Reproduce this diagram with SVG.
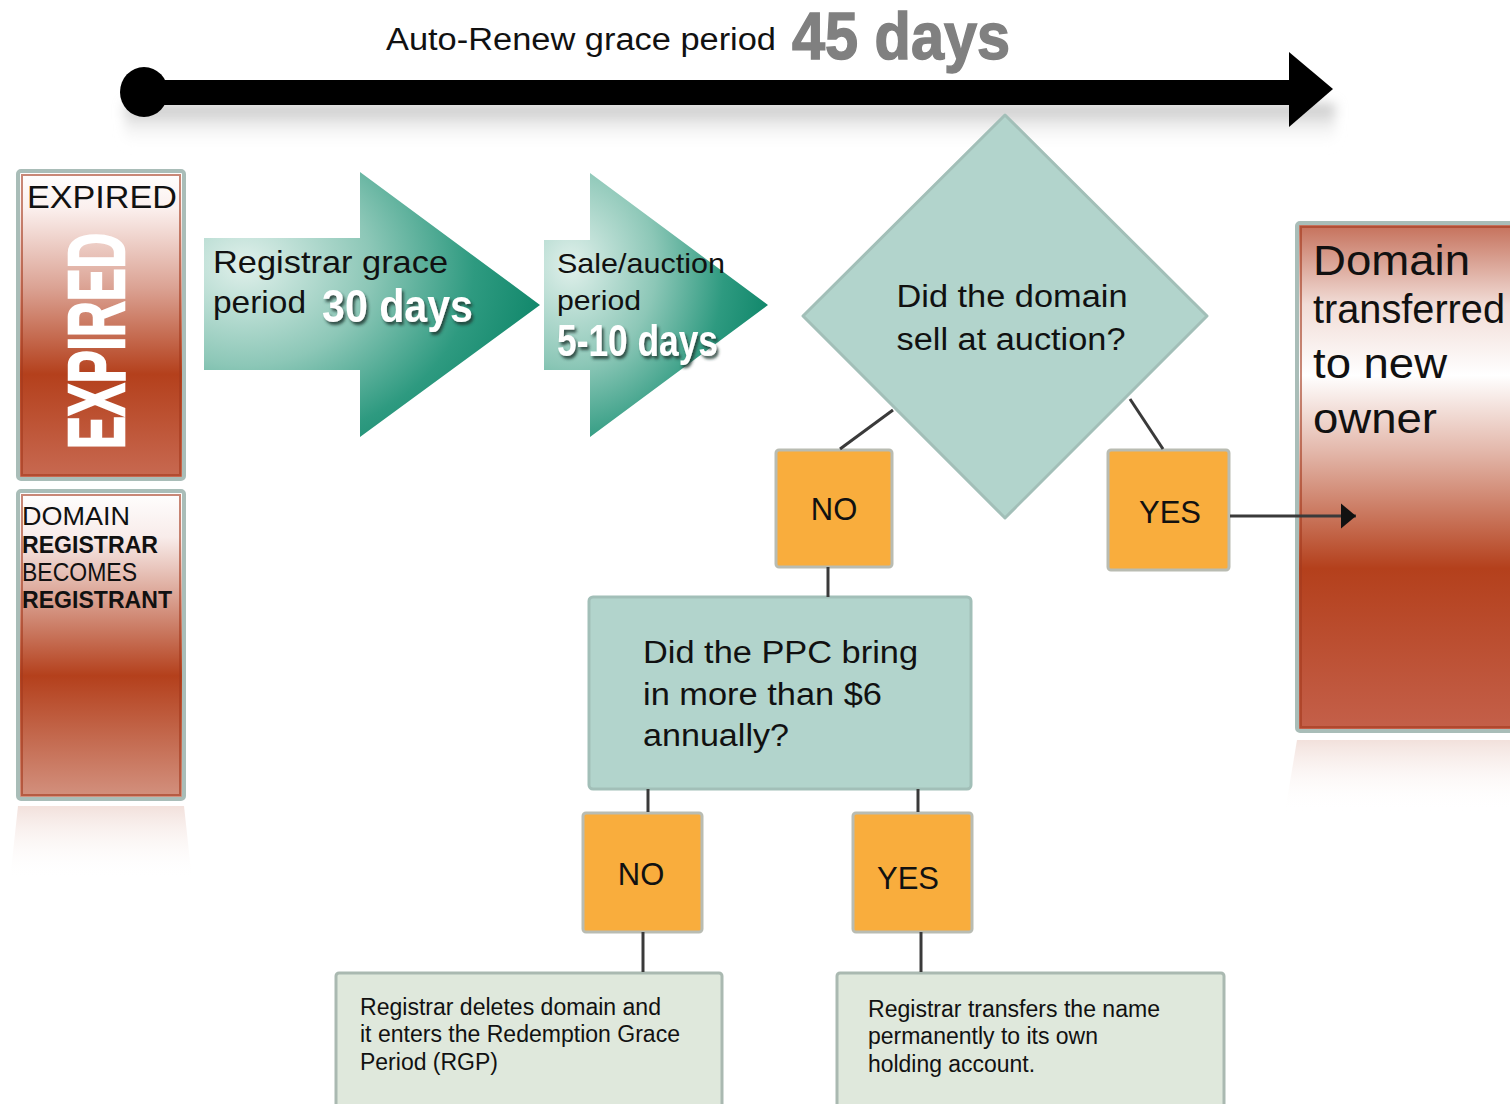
<svg xmlns="http://www.w3.org/2000/svg" width="1510" height="1104" viewBox="0 0 1510 1104">
  <defs>
    <style>
      .t { font-family: "Liberation Sans", Arial, sans-serif; fill: #111; }
      .nar { font-family: "Liberation Sans Narrow", "Liberation Sans", Arial, sans-serif; }
      .big { font-family: "Liberation Sans Narrow", "Liberation Sans", Arial, sans-serif; font-weight: bold; }
      .orange { fill: #f9ad3d; stroke: #b9bcb2; stroke-width: 3; }
      .teal { fill: #b2d4cc; stroke: #a2bfb8; stroke-width: 3; }
      .note { fill: #dfe8dc; stroke: #aab9b1; stroke-width: 3; }
      .conn { stroke: #3a3a3a; stroke-width: 3; fill: none; }
    </style>
    <linearGradient id="redA" x1="0" y1="0" x2="0" y2="1">
      <stop offset="0" stop-color="#ffffff"/>
      <stop offset="0.12" stop-color="#fbf0ee"/>
      <stop offset="0.38" stop-color="#dba293"/>
      <stop offset="0.66" stop-color="#b4401c"/>
      <stop offset="1" stop-color="#c86a52"/>
    </linearGradient>
    <linearGradient id="redB" x1="0" y1="0" x2="0" y2="1">
      <stop offset="0" stop-color="#ffffff"/>
      <stop offset="0.15" stop-color="#f8ecea"/>
      <stop offset="0.35" stop-color="#d9a090"/>
      <stop offset="0.6" stop-color="#b4401c"/>
      <stop offset="1" stop-color="#d39280"/>
    </linearGradient>
    <linearGradient id="redC" x1="0" y1="0" x2="0" y2="1">
      <stop offset="0" stop-color="#c46e58"/>
      <stop offset="0.16" stop-color="#f1dcd6"/>
      <stop offset="0.3" stop-color="#ffffff"/>
      <stop offset="0.45" stop-color="#e3b7aa"/>
      <stop offset="0.68" stop-color="#b4401c"/>
      <stop offset="1" stop-color="#c4604a"/>
    </linearGradient>
    <linearGradient id="refl" x1="0" y1="0" x2="0" y2="1">
      <stop offset="0" stop-color="#e8c9c0" stop-opacity="0.8"/>
      <stop offset="1" stop-color="#ffffff" stop-opacity="0"/>
    </linearGradient>
    <radialGradient id="green1" cx="0.12" cy="0.35" r="0.95" fx="0.12" fy="0.35">
      <stop offset="0" stop-color="#e0f0eb"/>
      <stop offset="0.4" stop-color="#8cc7b7"/>
      <stop offset="0.72" stop-color="#2e9a80"/>
      <stop offset="1" stop-color="#0a8366"/>
    </radialGradient>
    <linearGradient id="barShadow" x1="0" y1="0" x2="0" y2="1">
      <stop offset="0" stop-color="#bdbdbd"/>
      <stop offset="1" stop-color="#ffffff" stop-opacity="0"/>
    </linearGradient>
    <filter id="blur" x="-10%" y="-50%" width="120%" height="200%">
      <feGaussianBlur stdDeviation="6"/>
    </filter>
    <filter id="ds" x="-20%" y="-20%" width="140%" height="150%">
      <feDropShadow dx="2" dy="3" stdDeviation="1.5" flood-color="#1b3a32" flood-opacity="0.85"/>
    </filter>
    <marker id="arr" viewBox="0 0 6 10" refX="6" refY="5" markerWidth="5" markerHeight="9" markerUnits="strokeWidth" orient="auto">
      <path d="M0,0 L6,5 L0,10 Z" fill="#111"/>
    </marker>
  </defs>

  <rect width="1510" height="1104" fill="#ffffff"/>

  <!-- Timeline -->
  <g id="timeline">
    <rect x="125" y="104" width="1210" height="44" fill="url(#barShadow)" filter="url(#blur)"/>
    <text class="t" x="386" y="50" font-size="31" textLength="390" lengthAdjust="spacingAndGlyphs">Auto-Renew grace period</text>
    <text class="big" x="792" y="59" font-size="66" fill="#808080" stroke="#808080" stroke-width="1.5" textLength="218" lengthAdjust="spacingAndGlyphs">45 days</text>
    <rect x="145" y="80" width="1150" height="25" fill="#000"/>
    <ellipse cx="144" cy="92" rx="24" ry="25" fill="#000"/>
    <path d="M1289,52 L1333,89 L1289,127 Z" fill="#000"/>
  </g>

  <!-- Left status boxes -->
  <g id="expired">
    <rect x="18" y="171" width="166" height="308" rx="3" fill="url(#redA)" stroke="#a9bdb8" stroke-width="4"/>
    <rect x="22" y="175" width="158" height="300" fill="none" stroke="#a3391c" stroke-width="2" stroke-opacity="0.6"/>
    <text class="t" x="27" y="208" font-size="32" textLength="150" lengthAdjust="spacingAndGlyphs">EXPIRED</text>
    <text class="big" transform="translate(124,341) rotate(-90)" x="0" y="0" font-size="80" fill="#ffffff" stroke="#ffffff" stroke-width="2.5" text-anchor="middle" textLength="216" lengthAdjust="spacingAndGlyphs">EXPIRED</text>
  </g>

  <g id="registrant">
    <rect x="18" y="491" width="166" height="308" rx="3" fill="url(#redB)" stroke="#a9bdb8" stroke-width="4"/>
    <rect x="22" y="495" width="158" height="300" fill="none" stroke="#a3391c" stroke-width="2" stroke-opacity="0.6"/>
    <text class="t" x="22" y="525" font-size="25" textLength="108" lengthAdjust="spacingAndGlyphs">DOMAIN</text>
    <text class="t" x="22" y="553" font-size="23" font-weight="bold" textLength="136" lengthAdjust="spacingAndGlyphs">REGISTRAR</text>
    <text class="t" x="22" y="581" font-size="25" textLength="115" lengthAdjust="spacingAndGlyphs">BECOMES</text>
    <text class="t" x="22" y="608" font-size="23" font-weight="bold" textLength="150" lengthAdjust="spacingAndGlyphs">REGISTRANT</text>
    <path d="M18,806 L184,806 L192,880 L10,880 Z" fill="url(#refl)" opacity="0.7"/>
  </g>

  <!-- Green period arrows -->
  <g id="registrar-grace">
    <path d="M204,238 L360,238 L360,172 L540,305 L360,437 L360,370 L204,370 Z" fill="url(#green1)"/>
    <text class="t" x="213" y="273" font-size="32" textLength="235" lengthAdjust="spacingAndGlyphs">Registrar grace</text>
    <text class="t" x="213" y="313" font-size="32" textLength="93" lengthAdjust="spacingAndGlyphs">period</text>
    <text class="big" x="322" y="322" font-size="46" fill="#ffffff" filter="url(#ds)" textLength="151" lengthAdjust="spacingAndGlyphs">30 days</text>
  </g>

  <g id="sale-auction">
    <path d="M544,240 L590,240 L590,173 L768,305 L590,437 L590,370 L544,370 Z" fill="url(#green1)"/>
    <text class="t" x="557" y="273" font-size="28" textLength="168" lengthAdjust="spacingAndGlyphs">Sale/auction</text>
    <text class="t" x="557" y="310" font-size="28" textLength="84" lengthAdjust="spacingAndGlyphs">period</text>
    <text class="big" x="557" y="356" font-size="44" fill="#ffffff" filter="url(#ds)" textLength="161" lengthAdjust="spacingAndGlyphs">5-10 days</text>
  </g>

  <!-- Decision 1 -->
  <g id="auction-decision">
    <path d="M1005,115 L1207,316 L1005,518 L803,316 Z" class="teal" stroke-linejoin="round"/>
    <text class="t" x="1012" y="307" font-size="31" text-anchor="middle" textLength="231" lengthAdjust="spacingAndGlyphs">Did the domain</text>
    <text class="t" x="1011" y="350" font-size="31" text-anchor="middle" textLength="229" lengthAdjust="spacingAndGlyphs">sell at auction?</text>
  </g>

  <g id="no1">
    <rect x="776" y="450" width="116" height="117" rx="3" class="orange"/>
    <text class="t" x="834" y="520" font-size="31" text-anchor="middle">NO</text>
  </g>

  <g id="yes1">
    <rect x="1108" y="450" width="121" height="120" rx="3" class="orange"/>
    <text class="t" x="1170" y="523" font-size="31" text-anchor="middle">YES</text>
  </g>

  <!-- Right outcome -->
  <g id="transferred">
    <rect x="1297" y="223" width="220" height="508" rx="3" fill="url(#redC)" stroke="#a9bdb8" stroke-width="4"/>
    <rect x="1301" y="227" width="215" height="500" fill="none" stroke="#a3391c" stroke-width="2" stroke-opacity="0.6"/>
    <text class="t" x="1313" y="275" font-size="43" textLength="157" lengthAdjust="spacingAndGlyphs">Domain</text>
    <text class="t" x="1313" y="323" font-size="40" textLength="192" lengthAdjust="spacingAndGlyphs">transferred</text>
    <text class="t" x="1313" y="378" font-size="43" textLength="134" lengthAdjust="spacingAndGlyphs">to new</text>
    <text class="t" x="1313" y="433" font-size="43" textLength="124" lengthAdjust="spacingAndGlyphs">owner</text>
    <path d="M1297,740 L1510,740 L1510,812 L1285,812 Z" fill="url(#refl)" opacity="0.7"/>
  </g>

  <!-- Decision 2 -->
  <g id="ppc-decision">
    <rect x="589" y="597" width="382" height="192" rx="4" class="teal"/>
    <text class="t" x="643" y="663" font-size="31" textLength="275" lengthAdjust="spacingAndGlyphs">Did the PPC bring</text>
    <text class="t" x="643" y="705" font-size="31" textLength="239" lengthAdjust="spacingAndGlyphs">in more than $6</text>
    <text class="t" x="643" y="746" font-size="31" textLength="146" lengthAdjust="spacingAndGlyphs">annually?</text>
  </g>

  <g id="no2">
    <rect x="583" y="813" width="119" height="119" rx="3" class="orange"/>
    <text class="t" x="641" y="885" font-size="31" text-anchor="middle">NO</text>
  </g>

  <g id="yes2">
    <rect x="853" y="813" width="119" height="119" rx="3" class="orange"/>
    <text class="t" x="908" y="889" font-size="31" text-anchor="middle">YES</text>
  </g>

  <!-- Outcomes -->
  <g id="rgp">
    <rect x="336" y="973" width="386" height="150" rx="3" class="note"/>
    <text class="t nar" x="360" y="1015" font-size="23" textLength="301" lengthAdjust="spacingAndGlyphs">Registrar deletes domain and</text>
    <text class="t nar" x="360" y="1042" font-size="23" textLength="320" lengthAdjust="spacingAndGlyphs">it enters the Redemption Grace</text>
    <text class="t nar" x="360" y="1070" font-size="23" textLength="138" lengthAdjust="spacingAndGlyphs">Period (RGP)</text>
  </g>

  <g id="holding">
    <rect x="837" y="973" width="387" height="150" rx="3" class="note"/>
    <text class="t nar" x="868" y="1017" font-size="23" textLength="292" lengthAdjust="spacingAndGlyphs">Registrar transfers the name</text>
    <text class="t nar" x="868" y="1044" font-size="23" textLength="230" lengthAdjust="spacingAndGlyphs">permanently to its own</text>
    <text class="t nar" x="868" y="1072" font-size="23" textLength="167" lengthAdjust="spacingAndGlyphs">holding account.</text>
  </g>

  <!-- Connectors -->
  <g id="connectors">
    <line class="conn" x1="893" y1="410" x2="840" y2="449"/>
    <line class="conn" x1="1130" y1="399" x2="1163" y2="449"/>
    <line class="conn" x1="1230" y1="516" x2="1356" y2="516" marker-end="url(#arr)"/>
    <line class="conn" x1="828" y1="567" x2="828" y2="597"/>
    <line class="conn" x1="648" y1="789" x2="648" y2="812"/>
    <line class="conn" x1="918" y1="789" x2="918" y2="812"/>
    <line class="conn" x1="643" y1="932" x2="643" y2="972"/>
    <line class="conn" x1="921" y1="932" x2="921" y2="972"/>
  </g>
</svg>
